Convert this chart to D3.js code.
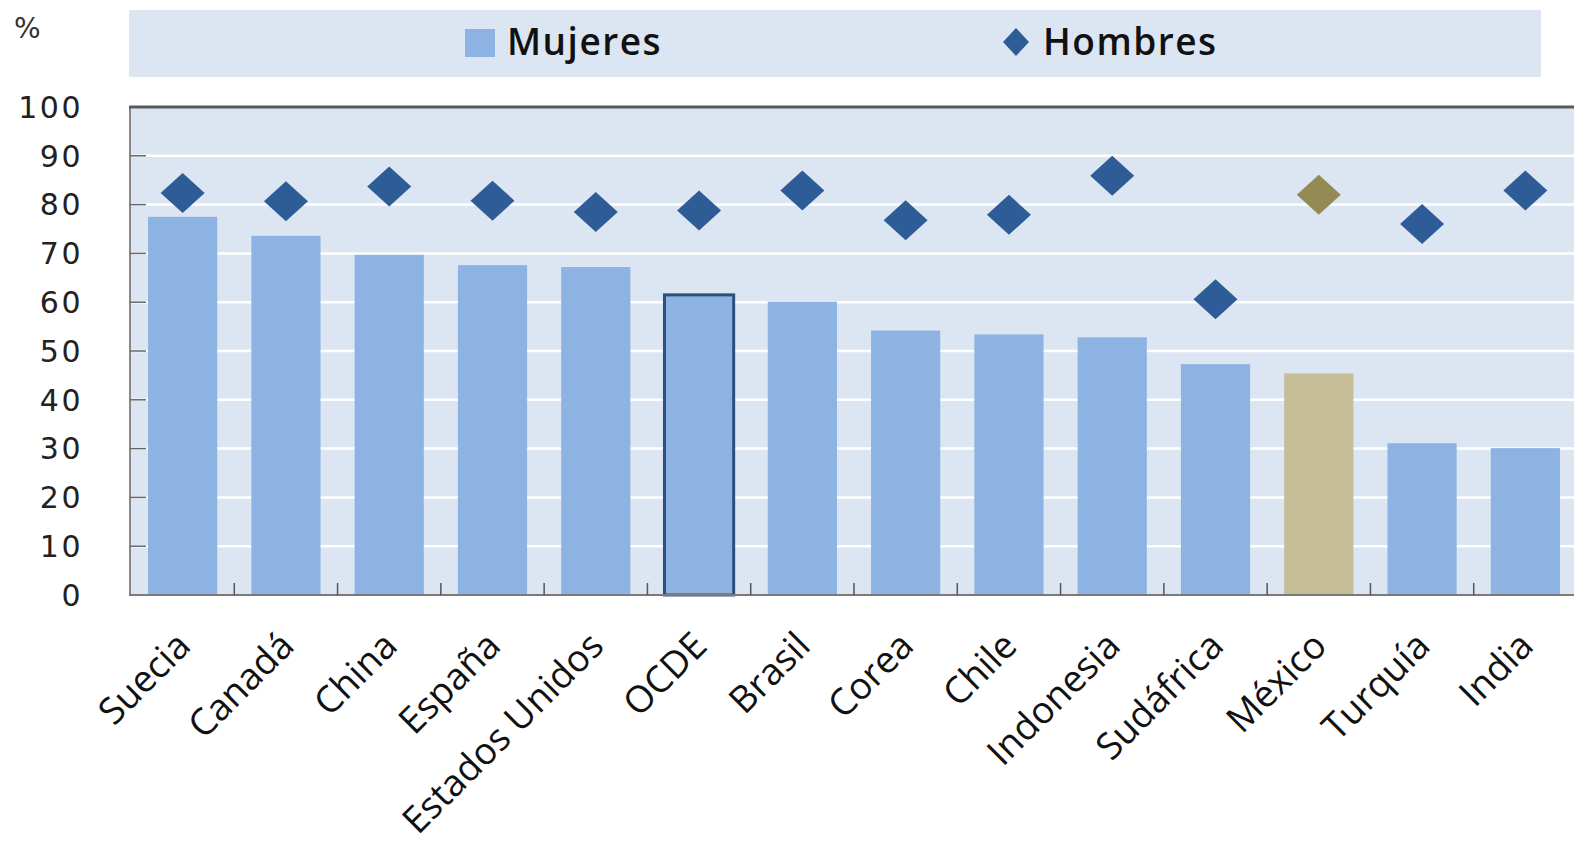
<!DOCTYPE html>
<html>
<head>
<meta charset="utf-8">
<script src="https://cdn.jsdelivr.net/npm/d3@7"></script>
<style>
  body { margin: 0; background: #fff; }
  svg { display: block; }
</style>
</head>
<body>
<svg id="chart"></svg>
<script>
"use strict"

// values (%)
const categories = ["Suecia", "Canadá", "China", "España", "Estados Unidos", "OCDE", "Brasil",
                    "Corea", "Chile", "Indonesia", "Sudáfrica", "México", "Turquía", "India"]
const mujeres = [77.5, 73.6, 69.7, 67.6, 67.2, 61.5, 60.1, 54.2, 53.4, 52.8, 47.3, 45.4, 31.1, 30.1]
const hombres = [82.4, 80.7, 83.7, 80.8, 78.5, 78.8, 82.9, 76.8, 77.9, 85.9, 60.6, 82.0, 76.0, 82.9]
const yTicks = [0, 10, 20, 30, 40, 50, 60, 70, 80, 90, 100]
const seriesNames = ["Mujeres", "Hombres"]

const width = 1574, height = 849
const plot = { left: 131, right: 1577, top: 107, bottom: 595 }

const barColor = "#8db3e2", dotColor = "#2e5c96"
const mexBar = "#c4bd97", mexDot = "#948a54"
const bgColor = "#dce6f2"

const svg = d3.select("#chart")
    .attr("width", width)
    .attr("height", height)

const data = categories.map((c, i) => ({ name: c, m: mujeres[i], h: hombres[i] }))

const x = d3.scaleBand()
    .domain(categories)
    .range([plot.left, plot.right])
    .paddingInner(0.33)
    .paddingOuter(0.165)

const y = d3.scaleLinear()
    .domain([0, 100])
    .range([plot.bottom, plot.top])

// plot background
svg.append("rect")
    .attr("x", plot.left - 1)
    .attr("y", plot.top)
    .attr("width", width - plot.left + 1)
    .attr("height", plot.bottom - plot.top)
    .attr("fill", bgColor)

// white gridlines
svg.append("g")
    .selectAll("line")
    .data(yTicks.filter(t => t > 0 && t < 100))
  .enter().append("line")
    .attr("x1", plot.left)
    .attr("x2", width)
    .attr("y1", d => y(d))
    .attr("y2", d => y(d))
    .attr("stroke", "#fff")
    .attr("stroke-width", 2.5)

// bars
svg.append("g")
    .selectAll("rect")
    .data(data)
  .enter().append("rect")
    .attr("x", d => x(d.name))
    .attr("y", d => y(d.m))
    .attr("width", x.bandwidth())
    .attr("height", d => y(0) - y(d.m))
    .attr("fill", d => d.name === "México" ? mexBar : barColor)
    .attr("stroke", d => d.name === "OCDE" ? "#2d4f7c" : "none")
    .attr("stroke-width", 3)

// y axis line + ticks
svg.append("line")
    .attr("x1", plot.left - 1).attr("x2", plot.left - 1)
    .attr("y1", plot.top).attr("y2", plot.bottom)
    .attr("stroke", "#888").attr("stroke-width", 2)

svg.append("g")
    .selectAll("line")
    .data(yTicks)
  .enter().append("line")
    .attr("x1", plot.left - 1)
    .attr("x2", plot.left + 15)
    .attr("y1", d => y(d))
    .attr("y2", d => y(d))
    .attr("stroke", "#666")
    .attr("stroke-width", 1.5)

// top border of the plot
svg.append("line")
    .attr("x1", plot.left - 2).attr("x2", width)
    .attr("y1", plot.top).attr("y2", plot.top)
    .attr("stroke", "#5a5a5a").attr("stroke-width", 3)

// x axis baseline + ticks between categories
svg.append("line")
    .attr("x1", plot.left - 2).attr("x2", width)
    .attr("y1", plot.bottom).attr("y2", plot.bottom)
    .attr("stroke", "#7a7a7a").attr("stroke-width", 2)

svg.append("g")
    .selectAll("line")
    .data(categories.slice(1))
  .enter().append("line")
    .attr("x1", d => x(d) - x.step() * x.paddingInner() / 2)
    .attr("x2", d => x(d) - x.step() * x.paddingInner() / 2)
    .attr("y1", plot.bottom - 12)
    .attr("y2", plot.bottom)
    .attr("stroke", "#555")
    .attr("stroke-width", 1.5)

// men diamonds
const diamond = "M0,-20L22,0L0,20L-22,0Z"
svg.append("g")
    .selectAll("path")
    .data(data)
  .enter().append("path")
    .attr("d", diamond)
    .attr("transform", d => "translate(" + (x(d.name) + x.bandwidth() / 2) + "," + y(d.h) + ")")
    .attr("fill", d => d.name === "México" ? mexDot : dotColor)

// y tick labels
svg.append("g")
    .selectAll("text")
    .data(yTicks)
  .enter().append("text")
    .attr("x", 83)
    .attr("y", d => y(d))
    .attr("dy", "0.36em")
    .attr("text-anchor", "end")
    .attr("font-family", "DejaVu Sans, Verdana, sans-serif")
    .attr("font-size", 30)
    .attr("letter-spacing", 2.5)
    .attr("fill", "#222")
    .text(d => d)

svg.append("text")
    .attr("x", 14)
    .attr("y", 38)
    .attr("font-family", "DejaVu Sans, Verdana, sans-serif")
    .attr("font-size", 28)
    .attr("fill", "#333")
    .text("%")

// category labels, rotated
svg.append("g")
    .selectAll("text")
    .data(categories)
  .enter().append("text")
    .attr("transform", d => "translate(" + (x(d) + x.bandwidth() / 2 + 10) + "," + 648 + ") rotate(-45)")
    .attr("text-anchor", "end")
    .attr("font-family", "Open Sans, sans-serif")
    .attr("font-size", 37)
    .attr("fill", "#111")
    .text(d => d)

// legend
svg.append("rect")
    .attr("x", 129).attr("y", 10)
    .attr("width", 1412).attr("height", 67)
    .attr("fill", bgColor)

const legend = svg.append("g")
legend.append("rect")
    .attr("x", 465).attr("y", 29)
    .attr("width", 30).attr("height", 28)
    .attr("fill", barColor)
legend.append("path")
    .attr("d", "M0,-14L13,0L0,14L-13,0Z")
    .attr("transform", "translate(1016,42)")
    .attr("fill", dotColor)

legend.selectAll("text")
    .data(seriesNames)
  .enter().append("text")
    .attr("x", (d, i) => i === 0 ? 507 : 1043)
    .attr("y", 55)
    .attr("font-family", "Open Sans, sans-serif")
    .attr("font-weight", 600)
    .attr("font-size", 37)
    .attr("letter-spacing", 1.5)
    .attr("fill", "#111")
    .text(d => d)
</script>
</body>
</html>
